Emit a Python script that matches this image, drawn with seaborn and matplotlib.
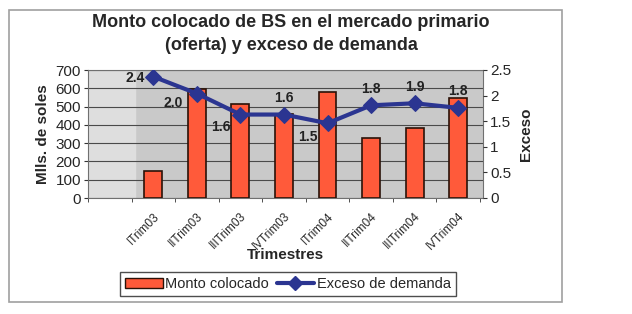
import matplotlib
matplotlib.use("Agg")
import matplotlib.pyplot as plt
import numpy as np
import pandas as pd
import seaborn as sns
from matplotlib.patches import Patch, Rectangle
from matplotlib.lines import Line2D

# datos
trimestres = ["ITrim03", "IITrim03", "IIITrim03", "IVTrim03",
              "ITrim04", "IITrim04", "IIITrim04", "IVTrim04"]
monto = [145, 598, 515, 462, 581, 326, 384, 545]
exceso = [2.37, 2.04, 1.63, 1.63, 1.46, 1.81, 1.85, 1.76]

df = pd.DataFrame({"trimestre": trimestres, "monto": monto, "exceso": exceso})

sns.set_style("white")
plt.rcParams["font.family"] = ["Liberation Sans", "DejaVu Sans"]

fig = plt.figure(figsize=(6.32, 3.14), dpi=100)
W, H = 632, 314
ax = fig.add_axes([88 / W, 1 - 198 / H, (483 - 88) / W, (198 - 70) / H])

ax.set_facecolor("#c9c9c9")
ax.axvspan(-1.5, -0.42, color="#dedede", zorder=0)

sns.barplot(data=df, x="trimestre", y="monto", color="#ff5a3a",
            edgecolor="#2a1208", linewidth=1.2, width=0.41, saturation=1,
            ax=ax, zorder=3)
ax.set_xlim(-1.5, 7.57)
ax.set_ylim(0, 700)
ax.set_yticks(range(0, 701, 100))
ax.yaxis.grid(True, color="#4a4a4a", linewidth=0.8)
ax.set_axisbelow(True)
for s in ax.spines.values():
    s.set_color("#707070")
    s.set_linewidth(0.8)
ax.tick_params(axis="y", labelsize=11, length=3, direction="out", left=True, color="#333333", pad=2)
ax.tick_params(axis="x", labelsize=8.5, length=0, pad=9)
ax.set_xticks(np.arange(-1.5, 7.6, 1.0), minor=True)
ax.tick_params(axis="x", which="minor", length=3, bottom=True, color="#333333")
plt.setp(ax.get_xticklabels(), rotation=45, ha="right", rotation_mode="anchor")
ax.set_xlabel("Trimestres", fontsize=11, fontweight="bold", labelpad=-3)
ax.set_ylabel("Mlls. de soles", fontsize=11, fontweight="bold", labelpad=4)

ax2 = ax.twinx()
sns.lineplot(data=df, x="trimestre", y="exceso", color="#2b3591", linewidth=3,
             marker="D", markersize=8, markeredgecolor="#2b3591", ax=ax2,
             sort=False, zorder=5)
ax2.set_xlim(-1.5, 7.57)
ax2.set_ylim(0, 2.5)
ax2.set_yticks([0, 0.5, 1, 1.5, 2, 2.5])
ax2.set_yticklabels(["0", "0.5", "1", "1.5", "2", "2.5"])
ax2.tick_params(axis="y", labelsize=11, length=3, direction="out", right=True, color="#333333", pad=2)
ax2.set_ylabel("Exceso", fontsize=11, fontweight="bold", labelpad=6)
for s in ax2.spines.values():
    s.set_visible(False)

offsets = [(-13, -1), (-17, -7), (-14, -9), (0, 12), (-14, -10),
           (0, 12), (0, 12), (0, 12)]
for i, (v, off) in enumerate(zip(exceso, offsets)):
    ax2.annotate(f"{v:.1f}", (i, v), xytext=off, textcoords="offset points",
                 ha="center", va="center", fontsize=10, fontweight="bold",
                 color="#222222")

fig.suptitle("Monto colocado de BS en el mercado primario\n(oferta) y exceso de demanda",
             x=291 / W, y=1 - 14 / H, fontsize=13, fontweight="bold",
             linespacing=1.45, va="top")

handles = [Patch(facecolor="#ff5a3a", edgecolor="#2a1208", linewidth=1),
           Line2D([0], [0], color="#2b3591", linewidth=3, marker="D", markersize=7)]
fig.legend(handles, ["Monto colocado", "Exceso de demanda"],
           loc="center", bbox_to_anchor=(288 / W, 1 - 284 / H), ncol=2,
           fontsize=10.5, frameon=True, fancybox=False, edgecolor="#222222",
           handlelength=2.6, handletextpad=0.2, columnspacing=0.5,
           borderpad=0.35, borderaxespad=0)

fig.patches.append(Rectangle((9 / W, 1 - 302 / H), 553 / W, 292 / H,
                             transform=fig.transFigure, fill=False,
                             edgecolor="#a0a0a0", linewidth=1.2))

fig.savefig("out.png", dpi=100, facecolor="white")
